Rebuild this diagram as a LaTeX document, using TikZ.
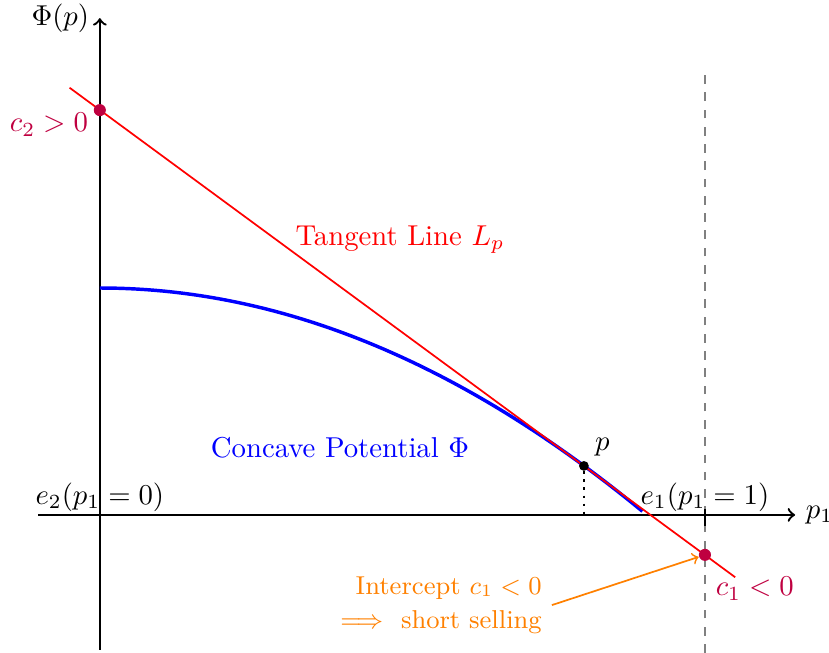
\documentclass[tikz,border=0pt]{standalone}
\usetikzlibrary{positioning}
\begin{document}
\begin{tikzpicture}[x=7.4cm,y=7.4cm,
    axis/.style={thick,->},
    mark dot/.style={circle,fill=purple,inner sep=0pt,minimum size=4.2pt}]
  \useasboundingbox (-0.165,-0.228) rectangle (1.205,0.851);
  % axes
  \coordinate (O) at (0,0);
  \coordinate (xmin) at (-0.102,0);
  \coordinate (xmax) at (1.149,0);
  \coordinate (ymin) at (0,-0.223);
  \coordinate (ymax) at (0,0.821);
  \draw[axis] (xmin) -- (xmax) node[right] (xlabel) {$p_1$};
  \draw[axis] (ymin) -- (ymax) node[left] (ylabel) {$\Phi(p)$};
  \coordinate (dtop) at (1,0.736);
  \coordinate (dbot) at (1,-0.228);
  \draw[gray,dashed] (dbot) -- (dtop);
  \draw[thick] (1,-0.018) -- (1,0.01);
  % potential and tangent
  \draw[blue,very thick,domain=0:0.897,samples=60] plot (\x,{0.375-0.459*\x*\x});
  \coordinate (tstart) at (-0.05,0.706);
  \coordinate (tend) at (1.05,-0.103);
  \draw[red,semithick] (tstart) -- (tend);
  \node[circle,fill=black,inner sep=0pt,minimum size=3.4pt] (pt) at (0.8,0.081) {};
  \coordinate (pfoot) at (0.8,0);
  \draw[thick,dotted] (pt) -- (pfoot);
  \node[above right=-1.5pt and -1pt of pt] (plabel) {$p$};
  \node[mark dot] (ctwo) at (0,0.669) {};
  \node[mark dot] (cone) at (1,-0.066) {};
  \node[purple,below left=-4pt and -1pt of ctwo] (ctwolabel) {$c_2>0$};
  \node[purple,below right=2.7pt and -1.4pt of cone] (conelabel) {$c_1<0$};
  % labels
  \node[anchor=south,inner sep=1pt] (etwo) at (O) {$e_2(p_1=0)$};
  \node[anchor=south,inner sep=1pt] (eone) at (1,0) {$e_1(p_1=1)$};
  \node[red] (tangent) at (0.496,0.455) {Tangent Line $L_p$};
  \node[blue] (concave) at (0.397,0.111) {Concave Potential $\Phi$};
  \node[orange,align=right,font=\small] (intercept) at (0.564,-0.149)
    {Intercept $c_1<0$\\[1pt]$\Longrightarrow$\ \ short selling};
  \draw[orange,semithick,->] (intercept.east) -- (cone);
\end{tikzpicture}
\end{document}
